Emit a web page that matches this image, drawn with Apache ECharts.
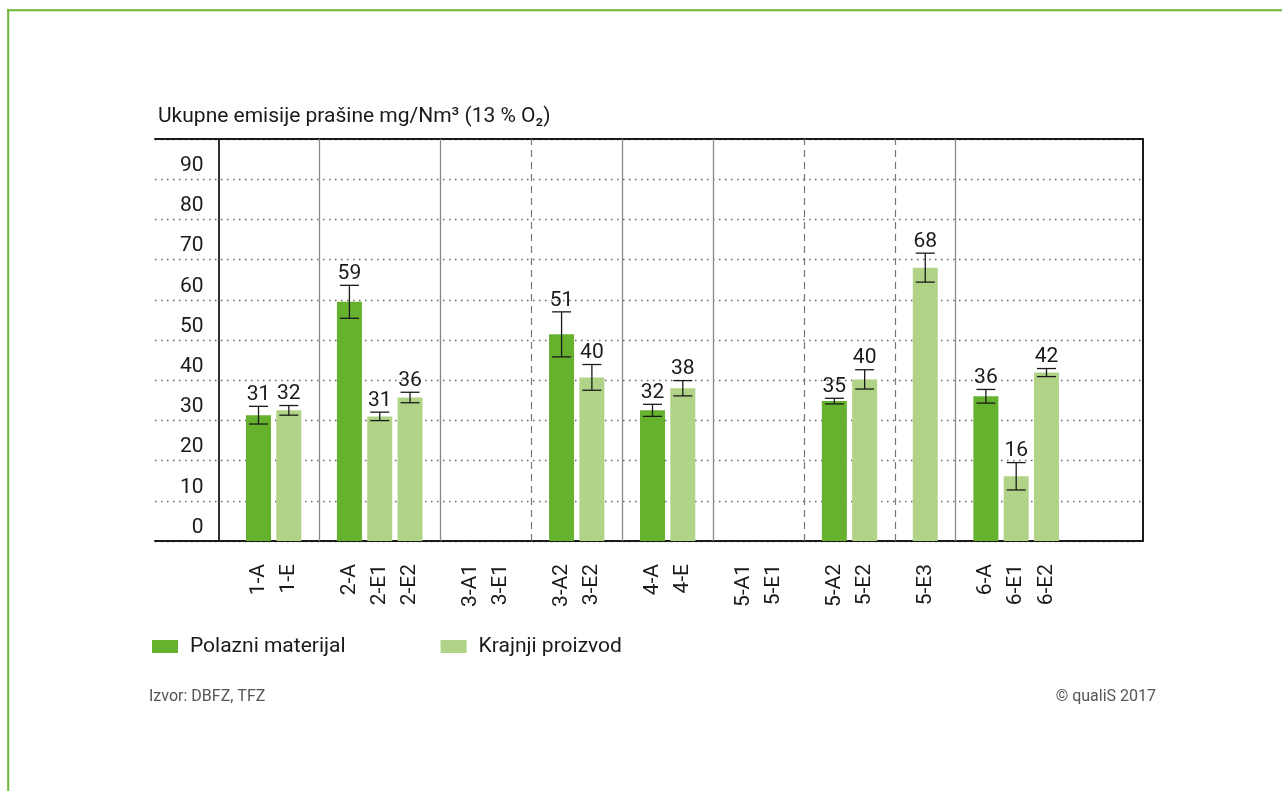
<!DOCTYPE html>
<html>
<head>
<meta charset="utf-8">
<script src="https://cdn.jsdelivr.net/npm/echarts@6/dist/echarts.min.js"></script>
<style>
html,body{margin:0;padding:0;background:#fff;}
#chart{width:1282px;height:791px;}
</style>
</head>
<body>
<div id="chart"></div>
<script>
// ---- data ----
const categories = ['1-A','1-E','','2-A','2-E1','2-E2','','3-A1','3-E1','','3-A2','3-E2','','4-A','4-E','','5-A1','5-E1','','5-A2','5-E2','','5-E3','','6-A','6-E1','6-E2'];
const polazni = [31.3,null,null,59.5,null,null,null,null,null,null,51.4,null,null,32.5,null,null,null,null,null,34.8,null,null,null,null,36.0,null,null];
const krajnji = [null,32.5,null,null,31.0,35.7,null,null,null,null,null,40.7,null,null,38.0,null,null,null,null,null,40.2,null,68.0,null,null,16.1,41.9];
const errors = [2.2,1.2,null,4.1,1.05,1.3,null,null,null,null,5.6,3.2,null,1.5,1.9,null,null,null,null,0.7,2.4,null,3.6,null,1.7,3.4,1.0];
const valueLabels = ['31','32','','59','31','36','','','','','51','40','','32','38','','','','','35','40','','68','','36','16','42'];
const solidBreaks = [2,6,12,15,23];
const dashedBreaks = [9,18,21];
const seriesNames = ['Polazni materijal','Krajnji proizvod'];
const yTicks = [0,10,20,30,40,50,60,70,80,90];

// ---- layout / style ----
const FONT = 'Roboto, "Noto Sans", sans-serif';
const DARK = '#66b22f';
const LIGHT = '#b0d388';
const X_MIN = -3.415, X_MAX = 29.184;

const labelPositions = categories.map((c,i)=>c!==''?i:null).filter(v=>v!==null);
const toPairs = arr => arr.map((v,i)=>[i,v]).filter(d=>d[1]!=null);
const errData = errors.map((e,i)=>[i, polazni[i]!=null?polazni[i]:krajnji[i], e]).filter(d=>d[2]!=null);

const chart = echarts.init(document.getElementById('chart'), null, {renderer:'canvas'});
const option = {
  animation:false,
  backgroundColor:'#fff',
  textStyle:{fontFamily:FONT},
  graphic:[
    {type:'line', shape:{x1:7,y1:10.3,x2:1282,y2:10.3}, style:{stroke:'#6cb535', lineWidth:2}},
    {type:'line', shape:{x1:8.2,y1:9.3,x2:8.2,y2:791}, style:{stroke:'#6cb535', lineWidth:2}}
  ],
  title:[
    {text:'Ukupne emisije prašine mg/Nm³ (13 % O₂)', left:153, top:101,
     textStyle:{fontFamily:FONT, fontSize:21, fontWeight:'normal', color:'#1a1a1a'}},
    {text:'Izvor: DBFZ, TFZ', left:144, top:684,
     textStyle:{fontFamily:FONT, fontSize:16, fontWeight:'normal', color:'#555'}},
    {text:'© qualiS 2017', right:121, top:684,
     textStyle:{fontFamily:FONT, fontSize:16, fontWeight:'normal', color:'#555'}}
  ],
  legend:{
    left:147, top:631, icon:'rect', itemWidth:26, itemHeight:13, itemGap:95,
    data:seriesNames,
    textStyle:{fontFamily:FONT, fontSize:21, color:'#1a1a1a', padding:[0,0,0,7]}
  },
  grid:{left:155, right:139, top:139, bottom:250, containLabel:false},
  xAxis:[
    {type:'value', min:X_MIN, max:X_MAX, position:'bottom',
     axisLine:{show:true, onZero:false, lineStyle:{color:'#1a1a1a', width:2}},
     axisTick:{show:false}, splitLine:{show:false},
     axisLabel:{customValues:labelPositions, formatter:v=>categories[Math.round(v)]||'',
       rotate:90, margin:23, fontSize:21, color:'#1a1a1a', fontFamily:FONT}},
    {type:'value', min:X_MIN, max:X_MAX, position:'top',
     axisLine:{show:true, onZero:false, lineStyle:{color:'#1a1a1a', width:2}},
     axisTick:{show:false}, axisLabel:{show:false}, splitLine:{show:false}}
  ],
  yAxis:[
    {type:'value', min:0, max:100, interval:10, offset:-63.5,
     axisLine:{show:true, onZero:false, lineStyle:{color:'#1a1a1a', width:1.8}},
     axisTick:{show:false},
     axisLabel:{formatter:v=>yTicks.indexOf(v)>=0?String(v):'', margin:15, fontSize:21,
       color:'#1a1a1a', fontFamily:FONT, verticalAlign:'bottom', padding:[0,0,3,0]},
     splitLine:{show:true, lineStyle:{type:[1.5,4.5], color:'#666', width:1.3}}},
    {type:'value', min:0, max:100, position:'right',
     axisLine:{show:true, onZero:false, lineStyle:{color:'#1a1a1a', width:2}},
     axisTick:{show:false}, axisLabel:{show:false}, splitLine:{show:false}}
  ],
  series:[
    {name:seriesNames[0], type:'bar', xAxisIndex:0, yAxisIndex:0, barWidth:25, barGap:'-100%',
     itemStyle:{color:DARK}, data:toPairs(polazni),
     markLine:{silent:true, symbol:['none','none'], label:{show:false},
       data:[
         ...solidBreaks.map(b=>({xAxis:b, lineStyle:{type:'solid', color:'#8a8a8a', width:1.3}})),
         ...dashedBreaks.map(b=>({xAxis:b, lineStyle:{type:[7,5], color:'#777', width:1.2}}))
       ]}},
    {name:seriesNames[1], type:'bar', xAxisIndex:0, yAxisIndex:0, barWidth:25, barGap:'-100%',
     itemStyle:{color:LIGHT}, data:toPairs(krajnji)},
    {type:'custom', xAxisIndex:0, yAxisIndex:0, z:5, data:errData,
     renderItem:function(params, api){
       const x = api.value(0), v = api.value(1), e = api.value(2);
       const top = api.coord([x, v+e]);
       const bot = api.coord([x, v-e]);
       const half = 9.5;
       const st = {stroke:'#1a1a1a', lineWidth:1.3};
       return {type:'group', children:[
         {type:'line', shape:{x1:top[0],y1:top[1],x2:bot[0],y2:bot[1]}, style:st},
         {type:'line', shape:{x1:top[0]-half,y1:top[1],x2:top[0]+half,y2:top[1]}, style:st},
         {type:'line', shape:{x1:bot[0]-half,y1:bot[1],x2:bot[0]+half,y2:bot[1]}, style:st},
         {type:'text', x:top[0], y:top[1]-1, style:{text:valueLabels[Math.round(x)], fill:'#1a1a1a',
           font:'21px ' + FONT, align:'center', verticalAlign:'bottom'}}
       ]};
     }}
  ]
};
chart.setOption(option);
</script>
</body>
</html>
